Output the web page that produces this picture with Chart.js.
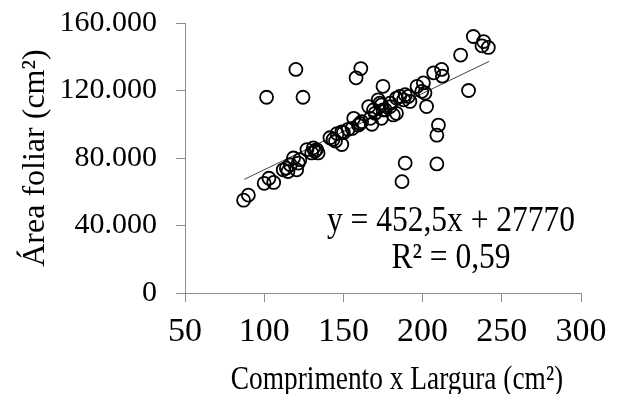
<!DOCTYPE html>
<html lang="pt">
<head>
    <meta charset="UTF-8">
    <title>Área foliar x Comprimento x Largura</title>
    <style>
        body { margin: 0; padding: 0; background: #ffffff; }
        .container { width: 620px; height: 394px; }
    </style>
    <script src="https://cdn.jsdelivr.net/npm/chart.js"></script>
</head>
<body>
    <div class="container">
        <canvas id="leafChart" width="620" height="394"></canvas>
    </div>

    <script>
        // Comprimento x Largura (cm²)
        const compXLarg = [
            87, 90, 100, 103, 106, 112, 114, 115, 116.5, 118.5, 120.5, 121.5, 122.5,
            127, 130, 131, 132, 133, 134,
            141.5, 143.5, 145, 146, 149, 149, 150, 153, 155.5, 156.5, 159.5, 160.5, 161.5,
            166, 167, 168, 169, 170, 172, 173, 174, 174, 175, 176.5, 179.5, 179.5, 181.5,
            183.5, 183.5, 185.5, 188, 189, 191, 192, 196.5, 199.5, 200.5, 201.5, 202.5,
            207, 212, 212.5, 224, 229, 232, 237.5, 238.5, 241.5,
            101.5, 120, 124.5, 158, 161, 175,
            210, 209, 189, 209, 187
        ];
        // Área foliar (cm²)
        const areaFoliar = [
            55000, 58000, 65000, 68000, 65500, 73000, 74000, 72000, 76000, 80000, 73000, 77000, 79000,
            85000, 83000, 86000, 84000, 85000, 83000,
            92000, 91000, 90000, 94500, 95500, 88000, 95000, 97000, 97500, 103500, 99500, 100500, 101500,
            110500, 103500, 100000, 108500, 106500, 114500, 112500, 111500, 103500, 108500, 108500, 110500, 112500, 105500,
            115500, 106500, 116500, 114500, 117500, 116500, 113500, 122500, 119500, 124500, 118500, 110500,
            130500, 132500, 128500, 141000, 120000, 152000, 146500, 149000, 145500,
            116000, 132500, 116000, 127500, 133000, 122500,
            99500, 93500, 77000, 76500, 66000
        ];
        // linha de tendência: y = 452,5x + 27770
        const slope = 452.5;
        const intercept = 27770;
        const trendX = [87.4, 242];
        const equationText = 'y = 452,5x + 27770';
        const r2Text = 'R² = 0,59';

        const xTicks = [50, 100, 150, 200, 250, 300];
        const yTicks = [0, 40000, 80000, 120000, 160000];

        const serif = '"Liberation Serif", "Times New Roman", serif';

        const scatterPoints = compXLarg.map((x, i) => ({ x: x, y: areaFoliar[i] }));
        const trendPoints = trendX.map(x => ({ x: x, y: slope * x + intercept }));

        // draw text a bit narrower than the font, like the original picture
        function narrowText(ctx, text, x, y, size, squeeze) {
            ctx.save();
            ctx.translate(x, y);
            ctx.scale(squeeze, 1);
            ctx.font = size + 'px ' + serif;
            ctx.fillText(text, 0, 0);
            ctx.restore();
        }

        // texts that are not tied to a scale: equation and x-axis title
        const textPlugin = {
            id: 'extraText',
            afterDraw(chart) {
                const ctx = chart.ctx;
                ctx.save();
                ctx.fillStyle = '#000';
                ctx.textAlign = 'center';
                ctx.textBaseline = 'alphabetic';
                narrowText(ctx, equationText, 451, 231, 35, 0.9);
                narrowText(ctx, r2Text, 451, 268, 35, 0.9);
                narrowText(ctx, 'Comprimento x Largura (cm²)', 397, 389, 33, 0.83);
                ctx.restore();
            }
        };

        const ctx = document.getElementById('leafChart').getContext('2d');
        new Chart(ctx, {
            type: 'scatter',
            data: {
                datasets: [{
                    label: 'Observado',
                    data: scatterPoints,
                    pointStyle: 'circle',
                    pointRadius: 6.5,
                    pointBorderWidth: 1.8,
                    borderColor: '#000',
                    backgroundColor: 'rgba(0,0,0,0)',
                    order: 1
                }, {
                    label: 'Tendência',
                    type: 'line',
                    data: trendPoints,
                    borderColor: '#444',
                    borderWidth: 1,
                    pointRadius: 0,
                    fill: false,
                    order: 2
                }]
            },
            options: {
                responsive: false,
                animation: false,
                layout: { padding: { left: 0, top: 23, right: 39, bottom: 0 } },
                plugins: {
                    legend: { display: false },
                    tooltip: { enabled: false }
                },
                scales: {
                    x: {
                        type: 'linear',
                        min: 50,
                        max: 300,
                        afterBuildTicks: axis => { axis.ticks = xTicks.map(v => ({ value: v })); },
                        afterFit: axis => {
                            axis.height = 101;
                            axis.paddingLeft = 0;
                            axis.paddingRight = 0;
                        },
                        grid: { drawOnChartArea: false, tickLength: 9, color: '#8c8c8c', lineWidth: 1 },
                        border: { color: '#8c8c8c', width: 1 },
                        ticks: { color: '#000', padding: 10, font: { family: serif, size: 34 } }
                    },
                    y: {
                        min: 0,
                        max: 160000,
                        afterBuildTicks: axis => { axis.ticks = yTicks.map(v => ({ value: v })); },
                        afterFit: axis => {
                            axis.width = 185;
                            axis.paddingTop = 0;
                            axis.paddingBottom = 0;
                        },
                        grid: { drawOnChartArea: false, tickLength: 9, color: '#8c8c8c', lineWidth: 1 },
                        border: { color: '#8c8c8c', width: 1 },
                        ticks: {
                            color: '#000',
                            padding: 19,
                            font: { family: serif, size: 30 },
                            callback: v => v === 0 ? '0' : (v / 1000) + '.000'
                        },
                        title: {
                            display: true,
                            text: 'Área foliar (cm²)',
                            color: '#000',
                            padding: { top: 16, bottom: 0 },
                            font: { family: serif, size: 32 }
                        }
                    }
                }
            },
            plugins: [textPlugin]
        });
    </script>
</body>
</html>
